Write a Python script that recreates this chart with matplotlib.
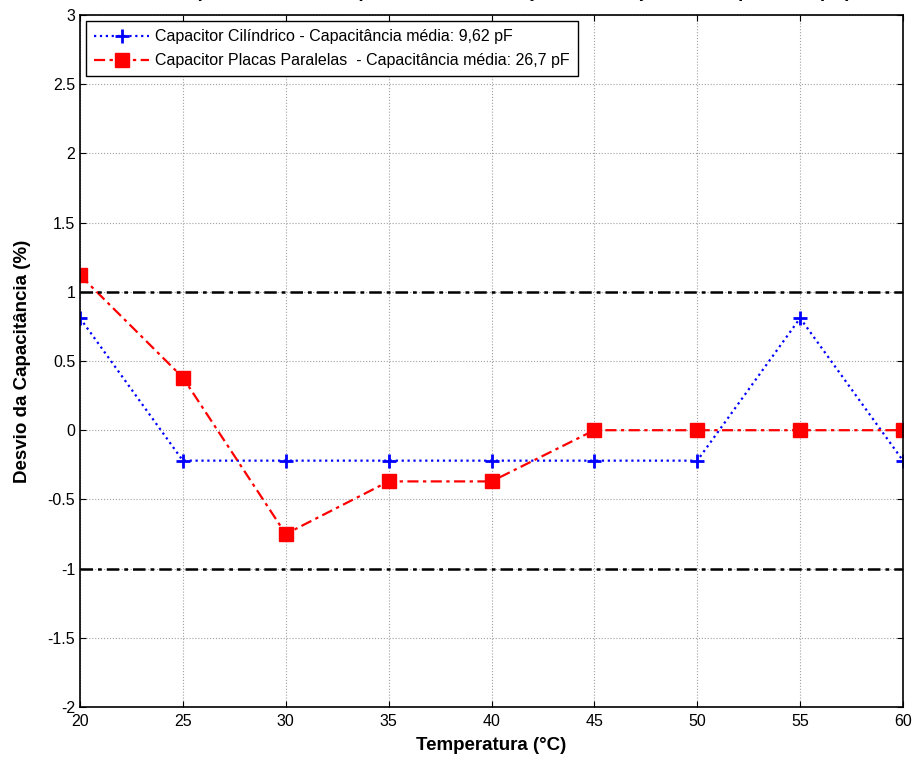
import matplotlib
matplotlib.use('Agg')
from matplotlib import pyplot as plt
import numpy as np

plt.rcParams['font.family'] = ['Liberation Sans', 'DejaVu Sans']

## Dados
temperatura = [20, 25, 30, 35, 40, 45, 50, 55, 60]
desvio_cilindrico = [0.81, -0.22, -0.22, -0.22, -0.22, -0.22, -0.22, 0.81, -0.22]
desvio_placas = [1.12, 0.38, -0.75, -0.37, -0.37, 0.0, 0.0, 0.0, 0.0]
limites = [1, -1]

label_cil = 'Capacitor Cilíndrico - Capacitância média: 9,62 pF'
label_pla = 'Capacitor Placas Paralelas  - Capacitância média: 26,7 pF'
titulo = 'Desvio percentual das Capacitâncias em função da Variação de Temperatura (°C)'

fig = plt.figure(figsize=(9.13, 7.6), dpi=100)
ax = fig.add_axes([80/913, 53/760, 823/913, 692/760])

ax.plot(temperatura, desvio_cilindrico, color='b', linestyle=':', linewidth=1.6,
	marker='+', markersize=10, markeredgewidth=2, label=label_cil)
ax.plot(temperatura, desvio_placas, color='r', linestyle=(0, (5, 2, 1.5, 2)), linewidth=1.6,
	marker='s', markersize=10, label=label_pla)
for lim in limites:
	ax.axhline(lim, color='k', linestyle=(0, (5, 2, 1.5, 2)), linewidth=1.8)

ax.set_xlim(20, 60)
ax.set_ylim(-2, 3)
ax.set_xticks(np.arange(20, 61, 5))
ax.set_yticks(np.arange(-2, 3.01, 0.5))
ax.set_yticklabels(['-2', '-1.5', '-1', '-0.5', '0', '0.5', '1', '1.5', '2', '2.5', '3'])
ax.grid(True, color='#a0a0a0', linestyle=':', linewidth=0.8)
ax.tick_params(direction='in', top=True, right=True, labelsize=11.5, length=4)
ax.tick_params(axis='x', pad=5)
for s in ax.spines.values():
	s.set_linewidth(1.2)

ax.set_xlabel('Temperatura (°C)', fontsize=13.5, fontweight='bold', labelpad=6)
ax.set_ylabel('Desvio da Capacitância (%)', fontsize=13.5, fontweight='bold', labelpad=12)
# titulo quase todo fora da figura, como no original
fig.text(0.538, 1.004, titulo, ha='center', va='baseline', fontsize=13.5, fontweight='bold')

leg = ax.legend(loc='upper left', fontsize=11.5, fancybox=False, framealpha=1,
	edgecolor='k', borderaxespad=0.4, handlelength=3.4, borderpad=0.5,
	labelspacing=0.55, handletextpad=0.4)
leg.get_frame().set_linewidth(1.0)

plt.savefig('out.png', dpi=100)
